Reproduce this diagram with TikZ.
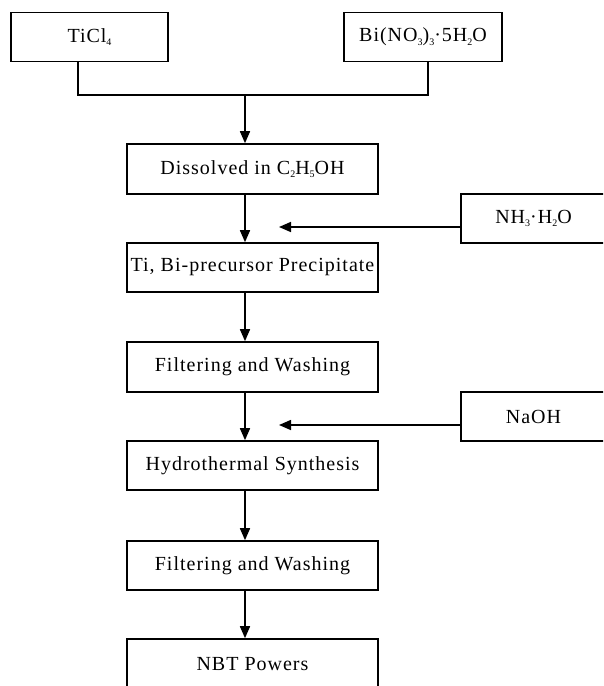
\documentclass[tikz,border=0pt]{standalone}
\usepackage{fontspec}
\setmainfont{Liberation Serif}[LetterSpace=5]
\usetikzlibrary{arrows.meta}
\newcommand{\chemsub}[1]{\raisebox{-0.35ex}{\fontsize{10}{10}\selectfont #1}}

\begin{document}
\begin{tikzpicture}[x=1pt,y=-1pt,>={Triangle[length=12pt,width=10pt]},
  box/.style={draw,line width=1.6pt,inner sep=0pt,minimum height=49pt,
    font=\fontsize{20}{24}\selectfont},
  mainbox/.style={box,minimum width=251pt},
  line/.style={line width=1.6pt}]
		\clip (0,0) rectangle (603,686);
		% starting materials
		\node[box,minimum width=157pt] (ti) at (89.5,37) {TiCl\chemsub{4}};
		\node[box,minimum width=158pt] (bi) at (423,37) {Bi(NO\chemsub{3})\chemsub{3}·5H\chemsub{2}O};
		% main line of steps
		\node[mainbox,minimum height=50pt] (dis) at (252.5,169) {Dissolved in C\chemsub{2}H\chemsub{5}OH};
		\node[mainbox] (pre) at (252.5,267.5) {Ti, Bi-precursor Precipitate};
		\node[mainbox,minimum height=50pt] (fw1) at (252.5,367) {Filtering and Washing};
		\node[mainbox] (hyd) at (252.5,465.5) {Hydrothermal Synthesis};
		\node[mainbox] (fw2) at (252.5,565.5) {Filtering and Washing};
		\node[mainbox,minimum height=60pt,text depth=11pt] (nbt) at (252.5,669) {NBT Powers};
		% added reagents
		\node[box,minimum width=145pt] (nh) at (533.5,218.5) {NH\chemsub{3}·H\chemsub{2}O};
		\node[box,minimum width=145pt] (na) at (533.5,416.5) {NaOH};
		\coordinate (join) at (245,95); %汇合点
		\coordinate (nhend) at (279,227);
		\coordinate (naend) at (279,425);
		% connectors
		\draw[line] ([xshift=-11.5]ti.south) |- (join) -| ([xshift=5]bi.south);
		\draw[line,->] (join) -- (join |- dis.north);
		\draw[line,->] (dis.south -| join) -- (pre.north -| join);
		\draw[line,->] (pre.south -| join) -- (fw1.north -| join);
		\draw[line,->] (fw1.south -| join) -- (hyd.north -| join);
		\draw[line,->] (hyd.south -| join) -- (fw2.north -| join);
		\draw[line,->] (fw2.south -| join) -- (nbt.north -| join);
		\draw[line,->] (nh.west |- nhend) -- (nhend);
		\draw[line,->] (na.west |- naend) -- (naend);
\end{tikzpicture}
\end{document}
